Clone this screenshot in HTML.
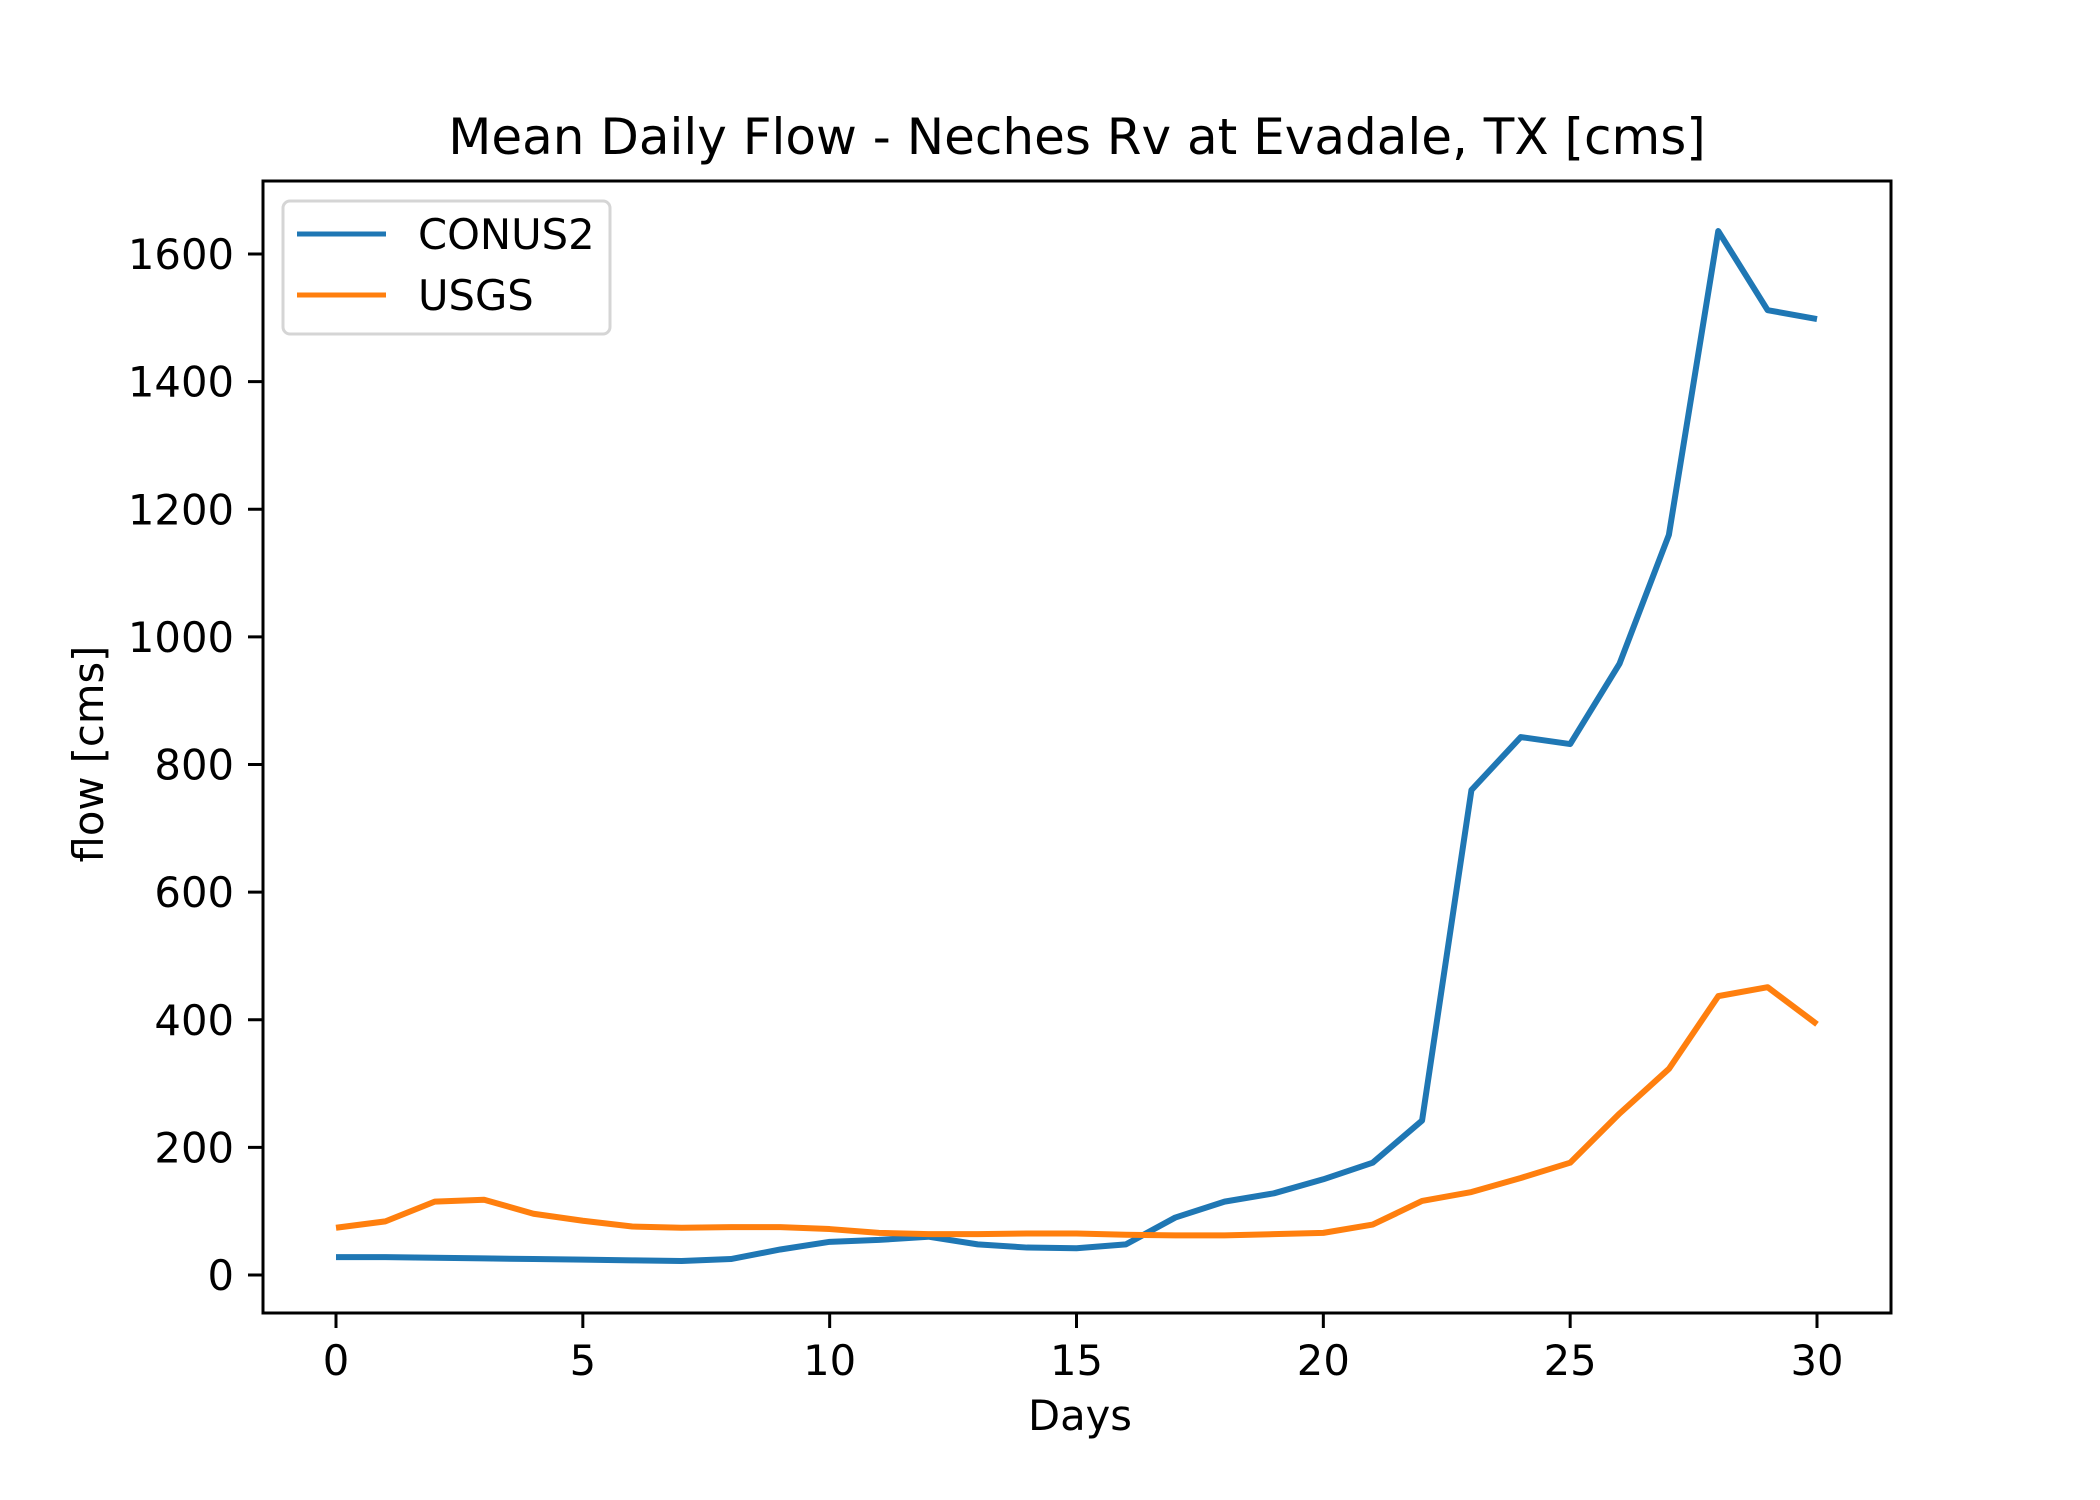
<!DOCTYPE html>
<html><head><meta charset="utf-8"><style>body{margin:0;background:#fff}svg{display:block;font-family:"DejaVu Sans","Liberation Sans",sans-serif}</style></head>
<body>
<svg id="chart" width="2100" height="1500" viewBox="0 0 2100 1500">
<rect width="2100" height="1500" fill="#fff"/>
<text x="1077" y="154" font-size="50" text-anchor="middle">Mean Daily Flow - Neches Rv at Evadale, TX [cms]</text>
<g id="plot"></g>
<rect x="263" y="181" width="1628" height="1132" fill="none" stroke="#000" stroke-width="3"/>
<g>
<rect x="283" y="201" width="327" height="133" rx="7" fill="#fff" fill-opacity="0.8" stroke="#d5d5d5" stroke-width="3"/>
<line x1="297" y1="234" x2="386" y2="234" stroke="#1f77b4" stroke-width="5"/>
<text x="418" y="249" font-size="41.7">CONUS2</text>
<line x1="297" y1="295" x2="386" y2="295" stroke="#ff7f0e" stroke-width="5"/>
<text x="418" y="310" font-size="41.7">USGS</text>
</g>
<text x="1080" y="1430" font-size="41.7" text-anchor="middle">Days</text>
<text transform="translate(103,754) rotate(-90)" font-size="41.7" text-anchor="middle">flow [cms]</text>
</svg>
<script>
const days = [0,1,2,3,4,5,6,7,8,9,10,11,12,13,14,15,16,17,18,19,20,21,22,23,24,25,26,27,28,29,30];
const conus2 = [28,28,27,26,25,24,23,22,25,40,52,55,60,48,43,42,48,90,115,128,150,176,242,760,843,832,958,1160,1636,1512,1498];
const usgs = [74,84,115,118,96,85,76,74,75,75,72,66,64,64,65,65,63,62,62,64,66,79,116,130,152,176,253,323,437,451,393];
const xTicks = [0,5,10,15,20,25,30];
const yTicks = [0,200,400,600,800,1000,1200,1400,1600];
const NS = 'http://www.w3.org/2000/svg';
function xs(d){return 336 + d*(1817-336)/30;}
function ys(v){return 1275 - v*(1275-254)/1600;}
const g = document.getElementById('plot');
function mk(tag, attrs){const e=document.createElementNS(NS,tag);for(const k in attrs)e.setAttribute(k,attrs[k]);g.appendChild(e);return e;}
xTicks.forEach(t=>{
  const l=mk('line',{x1:xs(t),x2:xs(t),y1:1313,y2:1328,stroke:'#000','stroke-width':3});
  
  
  const tx=mk('text',{x:xs(t),y:1375,'font-size':41.7,'text-anchor':'middle'});
  tx.textContent=t;
  
  
});
yTicks.forEach(t=>{
  const l=mk('line',{x1:248,x2:263,y1:ys(t),y2:ys(t),stroke:'#000','stroke-width':3});
  
  
  const tx=mk('text',{x:234,y:ys(t)+15,'font-size':41.7,'text-anchor':'end'});
  tx.textContent=t;
  
  
});
function line(vals,color,name){
  const p=mk('polyline',{points:vals.map((v,i)=>xs(days[i])+','+ys(v)).join(' '),fill:'none',stroke:color,'stroke-width':6,'stroke-linejoin':'round'});
  
  
}
line(conus2,'#1f77b4','conus2-line');
line(usgs,'#ff7f0e','usgs-line');
</script>
</body></html>
